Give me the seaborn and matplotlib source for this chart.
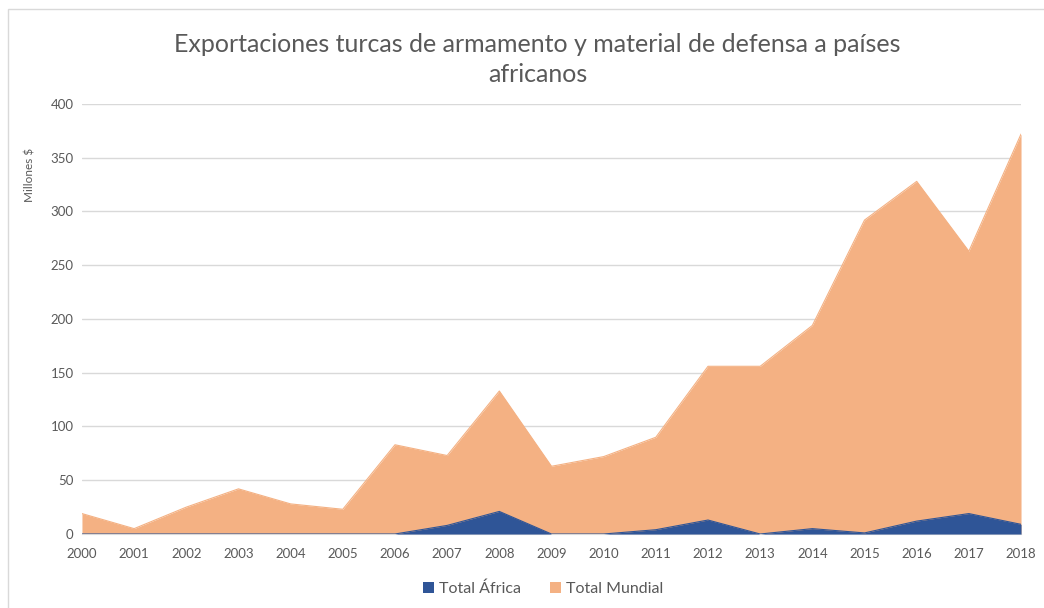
import matplotlib
matplotlib.use("Agg")
import matplotlib.pyplot as plt
import seaborn as sns
from matplotlib.patches import Rectangle

years = list(range(2000, 2019))
total_mundial = [19, 5, 25, 42, 28, 23, 83, 73, 133, 63, 72, 90, 156, 156, 194, 292, 328, 263, 372]
total_africa = [0, 0, 0, 0, 0, 0, 0, 8, 21, 0, 0, 4, 13, 0, 5, 1, 12, 19, 9]

orange = "#F4B183"
blue = "#2F5597"

sns.set_style("white")
plt.rcParams["font.family"] = ["Lato", "DejaVu Sans"]

fig = plt.figure(figsize=(10.44, 6.08), dpi=100)
ax = fig.add_axes([0.0785, 0.1217, 0.8995, 0.7073])

ax.fill_between(years, total_mundial, color=orange, linewidth=0, label="Total Mundial", zorder=2)
ax.fill_between(years, total_africa, color=blue, linewidth=0, label="Total África", zorder=3)
sns.lineplot(x=years, y=total_mundial, ax=ax, color=orange, linewidth=0.8, zorder=2, legend=False)
sns.lineplot(x=years, y=total_africa, ax=ax, color=blue, linewidth=0.8, zorder=3, legend=False)
if ax.get_legend() is not None:
    ax.get_legend().remove()

ax.set_xlim(2000, 2018)
ax.set_ylim(0, 400)
ax.set_yticks(range(0, 401, 50))
ax.set_xticks(years)
ax.set_xticklabels([str(y) for y in years])
ax.yaxis.grid(True, color="#D9D9D9", linewidth=1, zorder=0)
ax.set_axisbelow(True)
for s in ["top", "right", "left"]:
    ax.spines[s].set_visible(False)
ax.spines["bottom"].set_color("#D9D9D9")
ax.tick_params(axis="both", labelsize=9.5, colors="#595959", length=0, pad=6)
ax.tick_params(axis="x", length=4, color="#D9D9D9", direction="out")
ax.set_ylabel("Millones $", fontsize=8.5, color="#595959")
ax.yaxis.set_label_coords(-0.05, 0.835)

fig.text(0.515, 0.926, "Exportaciones turcas de armamento y material de defensa a países",
         ha="center", va="center", fontsize=18, color="#595959")
fig.text(0.515, 0.877, "africanos", ha="center", va="center", fontsize=18, color="#595959")

handles, labels = ax.get_legend_handles_labels()
order = [labels.index("Total África"), labels.index("Total Mundial")]
fig.legend([handles[i] for i in order], [labels[i] for i in order],
           loc="center", bbox_to_anchor=(0.52, 0.032), ncol=2, frameon=False,
           fontsize=11.5, handlelength=0.7, handleheight=0.7, handletextpad=0.3,
           columnspacing=1.8, labelcolor="#595959")

fig.patches.append(Rectangle((0.008, -0.01), 1.0, 0.995, transform=fig.transFigure,
                             fill=False, edgecolor="#D9D9D9", linewidth=1))

fig.savefig("out.png", dpi=100)
